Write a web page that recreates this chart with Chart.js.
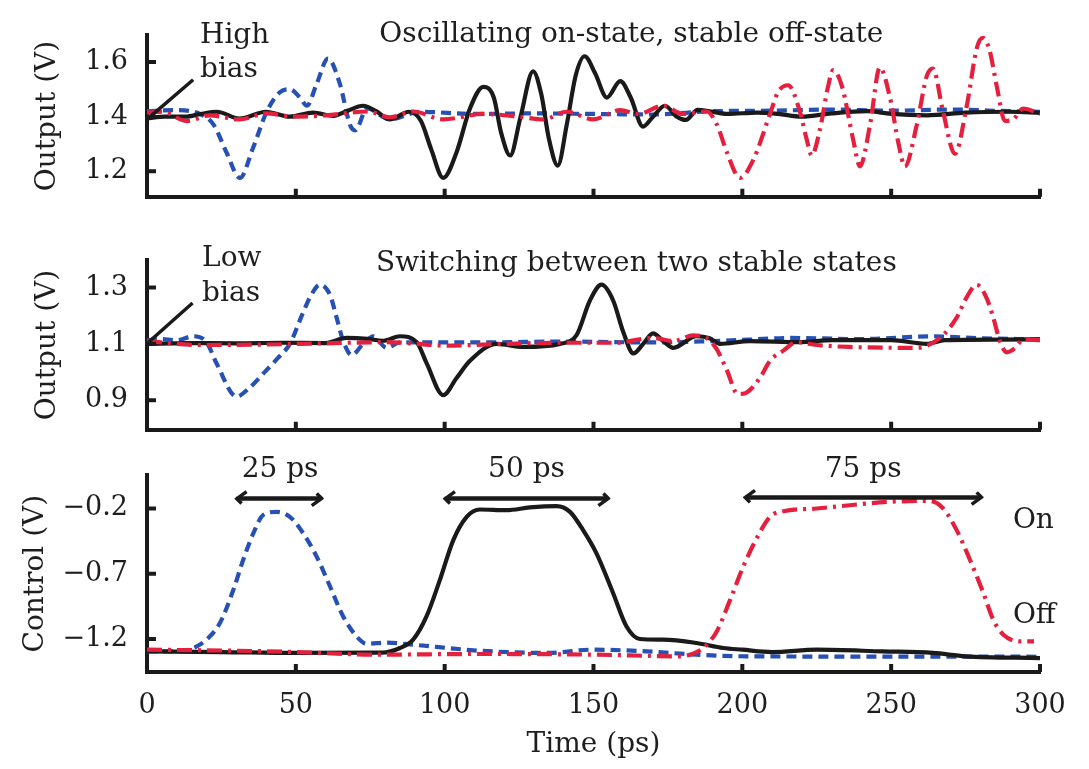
<!DOCTYPE html>
<html>
<head>
<meta charset="utf-8">
<script src="https://cdn.jsdelivr.net/npm/chart.js@4.4.1/dist/chart.umd.min.js"></script>
<style>
  html, body { margin: 0; padding: 0; background: #fff; }
  #wrap { position: relative; width: 1089px; height: 769px; overflow: hidden; }
  #wrap canvas { position: absolute; left: 0; }
</style>
</head>
<body>
<div id="wrap">
  <canvas id="hiChart" width="1089" height="232" style="top:0px"></canvas>
  <canvas id="loChart" width="1089" height="240" style="top:225px"></canvas>
  <canvas id="ctlChart" width="1089" height="329" style="top:440px"></canvas>
</div>
<script>
//-- shared x axis (ps) --
const timeTicks = [0, 50, 100, 150, 200, 250, 300];

//-- panel 1 : high bias output --
const hiTicks = [1.2, 1.4, 1.6];
const hiBlackT = [0, 6, 13, 18, 23.5, 31, 40, 48, 55.8, 62.6, 67, 72.6, 77, 81.6, 88, 92, 95.5, 99.5, 104, 108.5, 113, 116.5, 119, 122, 125.5, 129.7, 132.5, 135, 138, 141, 144, 147, 150.5, 154.5, 159, 162.5, 166.6, 170, 174, 178, 181, 185, 189, 195, 205, 212, 220, 230, 242, 250, 262, 275, 290, 300];
const hiBlackV = [1.394, 1.40, 1.40, 1.41, 1.418, 1.393, 1.418, 1.40, 1.415, 1.403, 1.42, 1.44, 1.42, 1.39, 1.418, 1.385, 1.28, 1.176, 1.27, 1.43, 1.509, 1.47, 1.34, 1.258, 1.40, 1.566, 1.48, 1.32, 1.221, 1.37, 1.55, 1.621, 1.56, 1.47, 1.53, 1.47, 1.364, 1.40, 1.44, 1.40, 1.388, 1.425, 1.42, 1.41, 1.415, 1.41, 1.40, 1.412, 1.42, 1.41, 1.405, 1.415, 1.418, 1.414];
const hiBlueT = [0, 8.8, 17.8, 22.4, 26.8, 31.2, 35.7, 40.2, 44.7, 48, 51.4, 53.7, 57, 60.8, 64.8, 68.2, 70, 73.9, 81.6, 91.7, 110, 130, 150, 170, 190, 210, 230, 250, 270, 290, 300];
const hiBlueV = [1.42, 1.424, 1.41, 1.37, 1.267, 1.176, 1.288, 1.418, 1.49, 1.50, 1.47, 1.44, 1.52, 1.612, 1.52, 1.37, 1.35, 1.43, 1.39, 1.418, 1.41, 1.412, 1.41, 1.408, 1.42, 1.422, 1.426, 1.422, 1.426, 1.42, 1.418];
const hiRedT = [0, 5, 13.4, 21, 31, 40, 49, 60, 74, 81.6, 89.4, 99.5, 113, 125, 133, 141, 150, 159, 165, 173.4, 180, 188, 191.5, 194.8, 199.2, 203.6, 209.3, 212, 215.4, 219.3, 221.6, 223.3, 226, 228.8, 230.5, 233.5, 237.2, 239.5, 242.9, 246.2, 249.6, 252.5, 254.6, 258.6, 262, 264, 267.4, 271.4, 275.4, 278.8, 280.8, 283, 285.5, 288.2, 291, 294.3, 300];
const hiRedV = [1.415, 1.418, 1.384, 1.405, 1.39, 1.412, 1.40, 1.405, 1.419, 1.398, 1.419, 1.39, 1.41, 1.40, 1.39, 1.418, 1.39, 1.424, 1.41, 1.44, 1.41, 1.419, 1.37, 1.27, 1.176, 1.24, 1.41, 1.49, 1.515, 1.42, 1.318, 1.258, 1.35, 1.51, 1.57, 1.51, 1.318, 1.218, 1.37, 1.58, 1.47, 1.30, 1.218, 1.37, 1.55, 1.576, 1.42, 1.264, 1.44, 1.652, 1.688, 1.645, 1.51, 1.385, 1.39, 1.43, 1.41];

//-- panel 2 : low bias output --
const loTicks = [0.9, 1.1, 1.3];
const loBlackT = [0, 13, 30, 45, 60, 67, 74, 79.4, 85, 90.6, 94, 99.5, 104, 108.5, 117.5, 126.4, 138.7, 144.3, 148.8, 152.7, 156.6, 160, 163.4, 166.7, 170, 173.4, 176.8, 184.6, 189, 192.5, 202.5, 219, 230.5, 250, 262, 268, 287, 300];
const loBlackV = [1.10, 1.103, 1.102, 1.104, 1.103, 1.121, 1.118, 1.111, 1.127, 1.106, 1.03, 0.918, 0.979, 1.04, 1.10, 1.089, 1.10, 1.131, 1.254, 1.31, 1.254, 1.142, 1.066, 1.10, 1.137, 1.11, 1.086, 1.127, 1.12, 1.10, 1.11, 1.106, 1.113, 1.113, 1.10, 1.113, 1.115, 1.116];
const loBlueT = [0, 4, 10, 15.6, 20, 23.4, 30.1, 34, 40, 44, 48, 52, 55, 58.1, 61.5, 63.7, 65.9, 68.8, 72.6, 76, 80.5, 85, 110, 140, 170, 190, 202, 216, 240, 264, 280, 300];
const loBlueV = [1.112, 1.118, 1.113, 1.127, 1.106, 1.03, 0.913, 0.94, 1.005, 1.05, 1.10, 1.20, 1.27, 1.31, 1.274, 1.193, 1.111, 1.06, 1.10, 1.127, 1.086, 1.105, 1.105, 1.108, 1.105, 1.11, 1.115, 1.121, 1.117, 1.127, 1.12, 1.116];
const loRedT = [0, 4, 17.8, 35, 52, 80.5, 101, 120, 140, 157, 170, 176.8, 183.5, 188, 191.4, 194.7, 198.5, 201, 205.9, 209.3, 213.8, 218.2, 225, 236.1, 258.5, 266.4, 272, 275.3, 278.7, 282, 284.3, 286.5, 288.8, 291.6, 294.4, 300];
const loRedV = [1.112, 1.106, 1.096, 1.097, 1.10, 1.106, 1.094, 1.10, 1.104, 1.104, 1.121, 1.11, 1.13, 1.121, 1.081, 1.009, 0.922, 0.925, 0.979, 1.04, 1.076, 1.106, 1.096, 1.089, 1.086, 1.121, 1.193, 1.264, 1.31, 1.264, 1.193, 1.111, 1.07, 1.085, 1.116, 1.113];

//-- panel 3 : control voltage --
const ctlTicks = [-1.2, -0.7, -0.2];
const ctlBlackT = [0, 25, 50, 79, 85, 89.4, 93.9, 98.4, 102.9, 107.4, 111.8, 120.8, 128.6, 137.6, 142.1, 146.5, 151, 156.6, 161.1, 165.6, 173.4, 184.6, 193.6, 200, 210, 225, 247, 264, 275, 300];
const ctlBlackV = [-1.295, -1.3, -1.307, -1.305, -1.269, -1.205, -1.027, -0.747, -0.442, -0.264, -0.208, -0.213, -0.192, -0.182, -0.226, -0.366, -0.544, -0.849, -1.104, -1.2, -1.205, -1.231, -1.269, -1.282, -1.3, -1.282, -1.295, -1.307, -1.333, -1.346];
const ctlBlueT = [0, 11, 15.6, 20, 24.5, 29, 32.3, 35.7, 39, 43.5, 48, 52.5, 57, 61.5, 65.9, 70.4, 73.8, 80.5, 89.4, 111.8, 134.2, 149.9, 167.8, 184.6, 201.4, 250, 300];
const ctlBlueV = [-1.295, -1.295, -1.269, -1.205, -1.078, -0.824, -0.595, -0.391, -0.251, -0.226, -0.264, -0.391, -0.569, -0.798, -1.027, -1.18, -1.236, -1.228, -1.244, -1.29, -1.307, -1.282, -1.295, -1.32, -1.333, -1.335, -1.336];
const ctlRedT = [0, 30, 50, 76, 111.8, 150, 179, 183.5, 186.9, 191.4, 195.9, 200.3, 204.8, 209.3, 213.8, 225, 236.1, 248.5, 263, 267.5, 272, 276.5, 281, 284.3, 287.7, 293.3, 298];
const ctlRedV = [-1.282, -1.29, -1.3, -1.32, -1.315, -1.32, -1.333, -1.312, -1.269, -1.142, -0.9, -0.646, -0.429, -0.264, -0.221, -0.2, -0.175, -0.15, -0.142, -0.2, -0.366, -0.595, -0.849, -1.053, -1.167, -1.218, -1.218];

//-- styles --
const FONT = '"DejaVu Serif", serif';
const INK = '#1e1e1e';
const AXIS = '#1a1a1a';
const BLACK = '#1a1a1a';
const BLUE = '#2650b4';
const RED = '#e5203e';
const LW = 4.2;

function series(T, V, color, dash) {
    return {
        data: T.map((t, i) => ({ x: t, y: V[i] })),
        borderColor: color,
        borderWidth: LW,
        borderDash: dash,
        pointRadius: 0,
        fill: false,
        cubicInterpolationMode: 'monotone'
    };
}

//-- text placed by data coordinates --
function label(chart, str, t, v, align, size) {
    const { ctx, scales: { x, y } } = chart;
    ctx.save();
    ctx.font = `${size || 28}px ${FONT}`;
    ctx.fillStyle = INK;
    ctx.textAlign = align;
    ctx.textBaseline = 'alphabetic';
    ctx.fillText(str, x.getPixelForValue(t), y.getPixelForValue(v));
    ctx.restore();
}

function segment(chart, t1, v1, t2, v2) {
    const { ctx, scales: { x, y } } = chart;
    ctx.save();
    ctx.strokeStyle = AXIS;
    ctx.lineWidth = 3.5;
    ctx.beginPath();
    ctx.moveTo(x.getPixelForValue(t1), y.getPixelForValue(v1));
    ctx.lineTo(x.getPixelForValue(t2), y.getPixelForValue(v2));
    ctx.stroke();
    ctx.restore();
}

//-- double arrow for pulse width --
function spanArrow(chart, t1, t2, v) {
    const { ctx, scales: { x, y } } = chart;
    const x1 = x.getPixelForValue(t1), x2 = x.getPixelForValue(t2), py = y.getPixelForValue(v);
    ctx.save();
    ctx.strokeStyle = AXIS;
    ctx.lineWidth = 4.5;
    ctx.beginPath();
    ctx.moveTo(x1 + 2, py);
    ctx.lineTo(x2 - 2, py);
    ctx.stroke();
    ctx.lineWidth = 3.5;
    ctx.beginPath();
    ctx.moveTo(x1 - 1, py + 1); ctx.lineTo(x1 + 10, py - 7);
    ctx.moveTo(x1 - 1, py - 1); ctx.lineTo(x1 + 5, py + 5);
    ctx.moveTo(x2 + 1, py - 1); ctx.lineTo(x2 - 10, py + 7);
    ctx.moveTo(x2 + 1, py + 1); ctx.lineTo(x2 - 5, py - 5);
    ctx.stroke();
    ctx.restore();
}

//-- tick marks drawn inward, like the original figure --
function innerTicks(chart, yTicks) {
    const { ctx, chartArea: a, scales: { x, y } } = chart;
    ctx.save();
    ctx.strokeStyle = AXIS;
    ctx.lineWidth = 4;
    ctx.beginPath();
    yTicks.forEach(v => {
        const py = y.getPixelForValue(v);
        ctx.moveTo(a.left, py);
        ctx.lineTo(a.left + 9, py);
    });
    timeTicks.forEach(t => {
        if (t === 0) return;
        const px = x.getPixelForValue(t);
        ctx.moveTo(px, a.bottom);
        ctx.lineTo(px, a.bottom - 8);
    });
    ctx.stroke();
    ctx.restore();
}

function makePanel(id, opt) {
    const decor = {
        id: 'decor_' + id,
        afterDraw(chart) {
            innerTicks(chart, opt.yTicks);
            opt.extras(chart);
        }
    };
    return new Chart(document.getElementById(id), {
        type: 'line',
        data: { datasets: opt.datasets },
        options: {
            responsive: false,
            animation: false,
            events: [],
            layout: { padding: { top: opt.padTop, right: 49, left: 0, bottom: 0 } },
            plugins: { legend: { display: false }, tooltip: { enabled: false } },
            scales: {
                x: {
                    type: 'linear', min: 0, max: 300,
                    afterBuildTicks: s => { s.ticks = timeTicks.map(v => ({ value: v })); },
                    afterFit: s => { s.height = opt.xHeight; },
                    grid: { display: false, drawTicks: false, tickLength: 0 },
                    border: { display: true, width: 4, color: AXIS },
                    ticks: { display: opt.showTime, padding: 18, color: INK, font: { family: FONT, size: 27 } },
                    title: {
                        display: opt.showTime, text: 'Time (ps)', color: INK,
                        font: { family: FONT, size: 28 }, padding: { top: 0, bottom: 7 }
                    }
                },
                y: {
                    min: opt.yMin, max: opt.yMax,
                    afterBuildTicks: s => { s.ticks = opt.yTicks.map(v => ({ value: v })); },
                    afterFit: s => { s.width = 147; },
                    grid: { display: false, drawTicks: false, tickLength: 0 },
                    border: { display: true, width: 4, color: AXIS },
                    ticks: {
                        padding: 19, color: INK, font: { family: FONT, size: 27 },
                        callback: v => v.toFixed(1).replace('-', '\u2212')
                    },
                    title: {
                        display: true, text: opt.yTitle, color: INK,
                        font: { family: FONT, size: 28 }, padding: { top: opt.titlePad, bottom: 0 }
                    }
                }
            }
        },
        plugins: [decor]
    });
}

makePanel('hiChart', {
    datasets: [
        series(hiRedT, hiRedV, RED, [15, 6, 3, 6]),
        series(hiBlackT, hiBlackV, BLACK, []),
        series(hiBlueT, hiBlueV, BLUE, [10, 6])
    ],
    yTicks: hiTicks, yMin: 1.107, yMax: 1.698, yTitle: 'Output (V)', titlePad: 31,
    padTop: 25, xHeight: 12, showTime: false,
    extras: chart => {
        label(chart, 'High', 17.8, 1.668, 'left');
        label(chart, 'bias', 17.8, 1.546, 'left');
        segment(chart, 0.4, 1.394, 15.5, 1.535);
        label(chart, 'Oscillating on-state, stable off-state', 162.7, 1.673, 'center');
    }
});

makePanel('loChart', {
    datasets: [
        series(loRedT, loRedV, RED, [15, 6, 3, 6]),
        series(loBlackT, loBlackV, BLACK, []),
        series(loBlueT, loBlueV, BLUE, [10, 6])
    ],
    yTicks: loTicks, yMin: 0.795, yMax: 1.397, yTitle: 'Output (V)', titlePad: 31,
    padTop: 25, xHeight: 18, showTime: false,
    extras: chart => {
        label(chart, 'Low', 18.5, 1.375, 'left');
        label(chart, 'bias', 18.5, 1.253, 'left');
        segment(chart, 0.4, 1.105, 15.3, 1.245);
        label(chart, 'Switching between two stable states', 164.4, 1.36, 'center');
    }
});

makePanel('ctlChart', {
    datasets: [
        series(ctlRedT, ctlRedV, RED, [15, 6, 3, 6]),
        series(ctlBlackT, ctlBlackV, BLACK, []),
        series(ctlBlueT, ctlBlueV, BLUE, [10, 6])
    ],
    yTicks: ctlTicks, yMin: -1.453, yMax: 0.055, yTitle: 'Control (V)', titlePad: 19,
    padTop: 35, xHeight: 97, showTime: true,
    extras: chart => {
        label(chart, '25 ps', 44.7, 0.041, 'center');
        spanArrow(chart, 30.1, 58.7, -0.124);
        label(chart, '50 ps', 127.5, 0.041, 'center');
        spanArrow(chart, 100.1, 155, -0.124);
        label(chart, '75 ps', 240.6, 0.041, 'center');
        spanArrow(chart, 200.9, 280.4, -0.115);
        label(chart, 'On', 290.9, -0.353, 'left');
        label(chart, 'Off', 290.9, -1.078, 'left');
    }
});
</script>
</body>
</html>
